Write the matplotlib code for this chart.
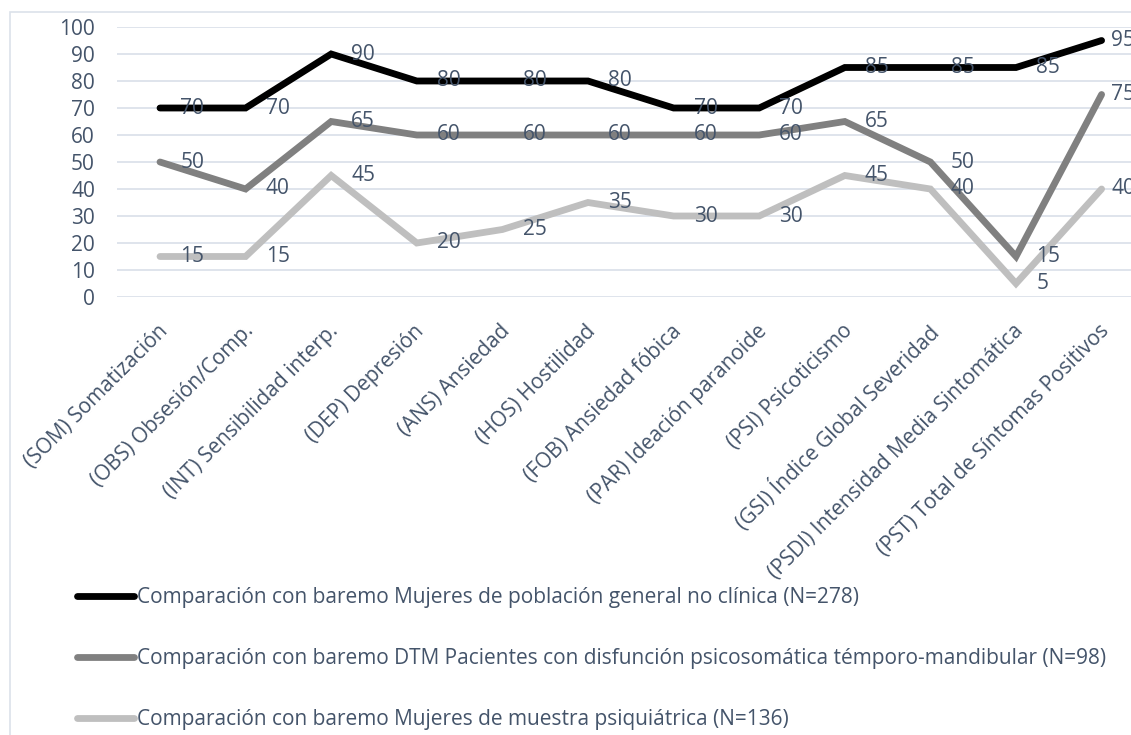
import matplotlib
matplotlib.use("Agg")
import matplotlib.pyplot as plt
import matplotlib.transforms as mtransforms
from matplotlib.patches import Rectangle
import numpy as np

# Data
categories = [
    "(SOM) Somatización",
    "(OBS) Obsesión/Comp.",
    "(INT) Sensibilidad interp.",
    "(DEP) Depresión",
    "(ANS) Ansiedad",
    "(HOS) Hostilidad",
    "(FOB) Ansiedad fóbica",
    "(PAR) Ideación paranoide",
    "(PSI) Psicoticismo",
    "(GSI) Índice Global Severidad",
    "(PSDI) Intensidad Media Sintomática",
    "(PST) Total de Síntomas Positivos",
]
general = [70, 70, 90, 80, 80, 80, 70, 70, 85, 85, 85, 95]
dtm = [50, 40, 65, 60, 60, 60, 60, 60, 65, 50, 15, 75]
psiquiatrica = [15, 15, 45, 20, 25, 35, 30, 30, 45, 40, 5, 40]
series_names = [
    "Comparación con baremo Mujeres de población general no clínica (N=278)",
    "Comparación con baremo DTM Pacientes con disfunción psicosomática témporo-mandibular (N=98)",
    "Comparación con baremo Mujeres de muestra psiquiátrica (N=136)",
]

TEXT = "#44546A"
GRID = "#DCE2EA"
FS = 15
plt.rcParams["font.family"] = ["Open Sans", "DejaVu Sans"]

W, H = 1131, 735
fig = plt.figure(figsize=(W / 100, H / 100), dpi=100)

# chart area border (cut at right/bottom like the reference)
fig.patches.append(Rectangle((10 / W, -0.1), 1.2, 1 - 12 / H + 0.1,
                             transform=fig.transFigure, fill=False,
                             edgecolor=GRID, linewidth=1.2))

left_px, step_px = 117.2, 85.6
ax = fig.add_axes([left_px / W, 1 - 297 / H, 12 * step_px / W, 270 / H])
ax.set_facecolor("none")

x = np.arange(len(categories))
colors = ["#000000", "#808080", "#BFBFBF"]
lines = []
for vals, col, name in zip([general, dtm, psiquiatrica], colors, series_names):
    ln, = ax.plot(x, vals, color=col, linewidth=4.9, solid_capstyle="round",
                  solid_joinstyle="miter", label=name, zorder=3)
    lines.append(ln)
    for xi, v in zip(x, vals):
        # last labels are pulled in toward the edge, as Excel does
        dx = 7 if xi == x[-1] else 14.5
        ax.annotate(str(v), (xi, v), xytext=(dx, 0), textcoords="offset points",
                    ha="left", va="center", fontsize=FS, color=TEXT, zorder=5,
                    annotation_clip=False)

ax.set_xlim(-0.5, 11.5)
ax.set_ylim(0, 100)
ax.set_yticks(range(0, 101, 10))
ax.set_axisbelow(True)
ax.grid(True, axis="y", color=GRID, linewidth=1.3)
for s in ax.spines.values():
    s.set_visible(False)
ax.tick_params(axis="both", length=0, labelsize=FS, labelcolor=TEXT)
ax.tick_params(axis="y", pad=16)
ax.set_xticks(x)
ax.set_xticklabels(categories, rotation=45, ha="right", rotation_mode="anchor")
ax.tick_params(axis="x", pad=17)
shift = mtransforms.ScaledTranslation(-3 / 100, 0, fig.dpi_scale_trans)
for lab in ax.get_xticklabels():
    lab.set_transform(lab.get_transform() + shift)

fig.legend(handles=lines, loc="upper left", bbox_to_anchor=(77 / W, 1 - 587 / H),
           frameon=False, fontsize=FS, labelcolor=TEXT, handlelength=2.75,
           handletextpad=0.15, labelspacing=1.92, borderpad=0, borderaxespad=0)

fig.savefig("out.png", dpi=100)
